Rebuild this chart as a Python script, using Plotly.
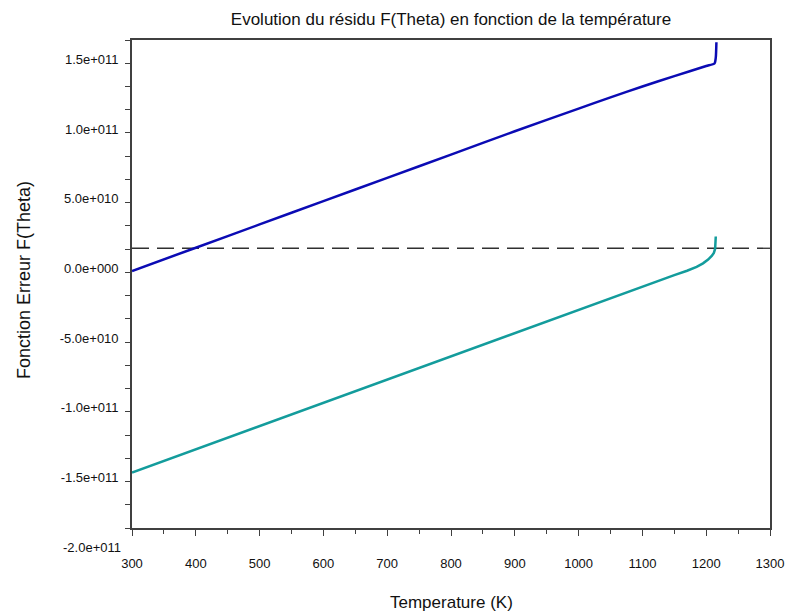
import plotly.graph_objects as go

# Data (values of F(Theta) in units of 1e11)
temp_blue = [300, 400, 500, 600, 700, 800, 900, 1000, 1050, 1100, 1150, 1200, 1213, 1215, 1216]
resid_blue_e11 = [0.01, 0.177, 0.344, 0.511, 0.678, 0.845, 1.012, 1.175, 1.255, 1.333, 1.408, 1.48, 1.498, 1.54, 1.65]

temp_teal = [300, 400, 500, 600, 700, 800, 900, 1000, 1100, 1150, 1170, 1185, 1195, 1203, 1209, 1212, 1214, 1215]
resid_teal_e11 = [-1.435, -1.268, -1.101, -0.934, -0.768, -0.601, -0.434, -0.267, -0.10, -0.02, 0.012, 0.04, 0.065, 0.092, 0.12, 0.14, 0.17, 0.257]

threshold_e11 = 0.173
x_range = [300, 1300]
y_range_e11 = [-1.8333, 1.6667]

x_tickvals = [300, 400, 500, 600, 700, 800, 900, 1000, 1100, 1200, 1300]
y_tickvals_e11 = [-1.5, -1.0, -0.5, 0.0, 0.5, 1.0, 1.5]
y_ticktext = ["-1.5e+011", "-1.0e+011", "-5.0e+010", "0.0e+000", "5.0e+010", "1.0e+011", "1.5e+011"]
extra_label_e11 = -2.0
extra_label_text = "-2.0e+011"

title_text = "Evolution du résidu F(Theta) en fonction de la température"
x_title = "Temperature (K)"
y_title = "Fonction Erreur F(Theta)"

E = 1e11
FONT = "Liberation Sans, Arial, sans-serif"
AX = "#404040"
TXT = "#111111"

fig = go.Figure()
fig.add_trace(go.Scatter(x=x_range, y=[threshold_e11 * E] * 2, mode="lines",
                         line=dict(color="#303030", width=1.3, dash="17px,8px"),
                         hoverinfo="skip", showlegend=False))
fig.add_trace(go.Scatter(x=temp_blue, y=[v * E for v in resid_blue_e11], mode="lines",
                         line=dict(color="#0b0bb4", width=2.5, shape="spline", smoothing=0.6), showlegend=False))
fig.add_trace(go.Scatter(x=temp_teal, y=[v * E for v in resid_teal_e11], mode="lines",
                         line=dict(color="#139c9c", width=2.5), showlegend=False))

fig.update_layout(
    width=787, height=616,
    margin=dict(l=132, r=17, t=40, b=88, autoexpand=False),
    paper_bgcolor="white", plot_bgcolor="white",
    font=dict(family=FONT, size=13, color=TXT),
    title=dict(text=title_text, x=0.5, xref="paper", xanchor="center",
               y=1 - 19 / 616, yanchor="middle", font=dict(size=17, family=FONT, color=TXT)),
    showlegend=False,
)
fig.update_xaxes(range=x_range, tickvals=x_tickvals, ticks="outside", ticklen=6, tickwidth=1.3,
                 tickcolor=AX, showgrid=False, zeroline=False, showline=True, linecolor=AX,
                 linewidth=1.6, mirror=True, ticklabelstandoff=17, automargin=False,
                 minor=dict(dtick=50, tick0=300, ticks="outside", ticklen=4, tickcolor=AX, tickwidth=1.3, showgrid=False),
                 tickfont=dict(size=13, family=FONT))
fig.update_yaxes(range=[v * E for v in y_range_e11], tickvals=[v * E for v in y_tickvals_e11],
                 ticktext=y_ticktext, ticks="outside", ticklen=5, tickwidth=1.3, tickcolor=AX,
                 showgrid=False, zeroline=False, showline=True, linecolor=AX, linewidth=1.6,
                 mirror=True, ticklabelstandoff=4, ticklabelshift=-4, automargin=False,
                 minor=dict(dtick=E / 6, tick0=0, ticks="outside", ticklen=5, tickcolor=AX, tickwidth=1.3, showgrid=False),
                 tickfont=dict(size=13, family=FONT))

y_lo, y_hi = y_range_e11
fig.add_annotation(x=0, xref="paper", y=(extra_label_e11 - y_lo) / (y_hi - y_lo), yref="paper",
                   text=extra_label_text, showarrow=False, xanchor="right", yanchor="middle",
                   xshift=-9, yshift=4, font=dict(size=13, family=FONT, color=TXT))
fig.add_annotation(x=0.5, xref="paper", y=0, yref="paper", text=x_title, showarrow=False,
                   xanchor="center", yanchor="middle", yshift=-74,
                   font=dict(size=17, family=FONT, color=TXT))
fig.add_annotation(x=0, xref="paper", y=0.5, yref="paper", text=y_title, showarrow=False,
                   textangle=-90, xanchor="center", yanchor="middle", xshift=-108, yshift=4,
                   font=dict(size=18, family=FONT, color=TXT))

fig.write_html("out.html", config={"displayModeBar": False},
               post_script="document.body.style.margin='0';document.body.style.overflow='hidden';")
